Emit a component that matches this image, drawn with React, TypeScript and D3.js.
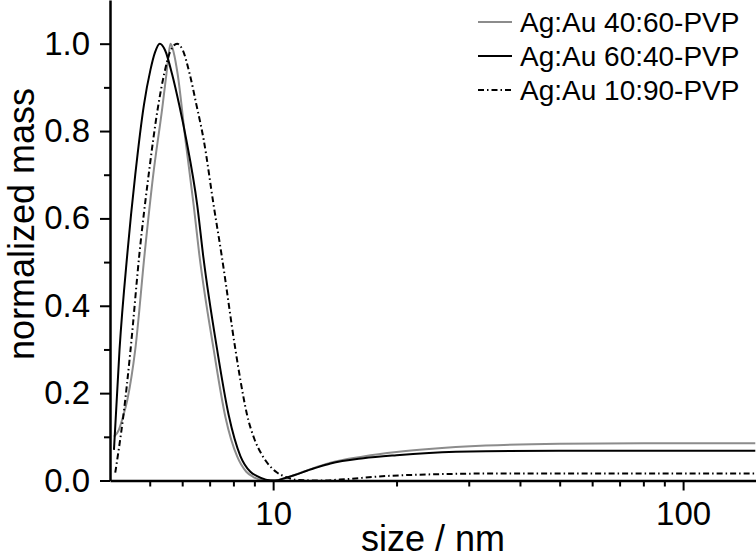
import React, { useEffect, useRef } from 'react';
import * as d3 from 'd3';

// values (size in nm, normalized mass)
const sizes4060 = [4.09, 4.2, 4.3, 4.41, 4.61, 4.86, 5.1, 5.37, 5.49, 5.56, 5.62, 5.72, 5.85, 6.11, 6.4, 6.6, 7.16, 7.65, 8.17, 8.6, 8.95, 9.5, 10.1, 10.8, 12.6, 13.8, 16.6, 20, 24, 33, 50, 80, 150];
const mass4060 = [0.1, 0.115, 0.145, 0.185, 0.3, 0.52, 0.7, 0.856, 0.93, 0.975, 1.0, 0.98, 0.93, 0.78, 0.63, 0.52, 0.3, 0.145, 0.055, 0.02, 0.008, 0.001, 0.0, 0.007, 0.029, 0.041, 0.055, 0.065, 0.072, 0.08, 0.084, 0.085, 0.085];

const sizes6040 = [4.09, 4.22, 4.41, 4.61, 4.84, 5.02, 5.15, 5.29, 5.45, 5.67, 5.9, 6.14, 6.53, 6.76, 7.3, 7.79, 8.32, 8.8, 9.14, 9.6, 10.1, 10.8, 12.6, 13.8, 16.6, 20, 24, 33, 50, 80, 150];
const mass6040 = [0.07, 0.3, 0.52, 0.7, 0.86, 0.94, 0.98, 1.0, 0.985, 0.93, 0.86, 0.78, 0.63, 0.51, 0.3, 0.15, 0.056, 0.02, 0.01, 0.002, 0.0, 0.007, 0.028, 0.039, 0.051, 0.058, 0.063, 0.067, 0.068, 0.068, 0.068];

const sizes1090 = [4.12, 4.2, 4.31, 4.49, 4.72, 4.97, 5.24, 5.42, 5.6, 5.83, 6.02, 6.26, 6.5, 6.77, 7.16, 7.49, 8.09, 8.32, 8.64, 9.0, 9.4, 9.8, 10.2, 10.8, 11.5, 13, 15, 18, 24, 35, 80, 150];
const mass1090 = [0.018, 0.07, 0.147, 0.3, 0.52, 0.7, 0.856, 0.93, 0.98, 1.0, 0.985, 0.93, 0.86, 0.78, 0.63, 0.515, 0.3, 0.23, 0.15, 0.095, 0.058, 0.034, 0.019, 0.007, 0.001, 0.0, 0.003, 0.009, 0.014, 0.016, 0.016, 0.016];

const seriesNames = ['Ag:Au 40:60-PVP', 'Ag:Au 60:40-PVP', 'Ag:Au 10:90-PVP'];
const xMajorTicks = [10, 100];
const xMinorTicks = [5, 6, 7, 8, 9, 20, 30, 40, 50, 60, 70, 80, 90];
const yMajorTicks = [0, 0.2, 0.4, 0.6, 0.8, 1.0];
const yMinorTicks = [0.1, 0.3, 0.5, 0.7, 0.9];

const font = '"Liberation Sans", Arial, sans-serif';

const App = () => {
	const chartRef = useRef<SVGSVGElement>(null);

	useEffect(() => {
		const svg = d3.select(chartRef.current);
		svg.selectAll('*').remove();

		const x = d3.scaleLog().domain([4, 150.6]).range([110, 756]);
		const y = d3.scaleLinear().domain([0, 1.1]).range([480.5, 0]);

		const series = [
			{ name: seriesNames[0], xs: sizes4060, ys: mass4060, color: '#8c8c8c', dash: null },
			{ name: seriesNames[1], xs: sizes6040, ys: mass6040, color: '#000', dash: null },
			{ name: seriesNames[2], xs: sizes1090, ys: mass1090, color: '#000', dash: '6,3,1.5,3' },
		];

		const line = d3.line<[number, number]>()
			.x(d => x(d[0]))
			.y(d => y(d[1]))
			.curve(d3.curveMonotoneX);

		series.forEach(s => {
			svg.append('path')
				.datum(s.xs.map((v, i) => [v, s.ys[i]] as [number, number]))
				.attr('fill', 'none')
				.attr('stroke', s.color)
				.attr('stroke-width', 2)
				.attr('stroke-dasharray', s.dash)
				.attr('d', line);
		});

		// x axis
		const xAxis = svg.append('g')
			.attr('transform', `translate(0,${y(0)})`)
			.call(d3.axisBottom(x).tickValues(xMajorTicks).tickFormat(d3.format('d')).tickSize(10).tickPadding(11).tickSizeOuter(0));
		svg.append('g')
			.attr('transform', `translate(0,${y(0)})`)
			.call(d3.axisBottom(x).tickValues(xMinorTicks).tickFormat(() => '').tickSize(6).tickSizeOuter(0))
			.select('.domain').remove();

		// y axis
		const yAxis = svg.append('g')
			.attr('transform', `translate(${x(4)},0)`)
			.call(d3.axisLeft(y).tickValues(yMajorTicks).tickFormat(d3.format('.1f')).tickSize(10).tickPadding(10).tickSizeOuter(0));
		svg.append('g')
			.attr('transform', `translate(${x(4)},0)`)
			.call(d3.axisLeft(y).tickValues(yMinorTicks).tickFormat(() => '').tickSize(6).tickSizeOuter(0))
			.select('.domain').remove();

		[xAxis, yAxis].forEach(g => {
			g.select('.domain').attr('stroke-width', 2.5);
			g.selectAll('text').style('font-family', font).style('font-size', '33px').attr('fill', '#000');
		});
		svg.selectAll('.tick line').attr('stroke-width', 2);

		svg.append('text')
			.attr('x', 433)
			.attr('y', 551)
			.attr('text-anchor', 'middle')
			.style('font-family', font)
			.style('font-size', '36px')
			.text('size / nm');

		svg.append('text')
			.attr('transform', 'translate(34,224) rotate(-90)')
			.attr('text-anchor', 'middle')
			.style('font-family', font)
			.style('font-size', '36px')
			.text('normalized mass');

		// legend
		series.forEach((s, i) => {
			const ly = 22 + i * 34;
			svg.append('line')
				.attr('x1', 478).attr('x2', 512)
				.attr('y1', ly).attr('y2', ly)
				.attr('stroke', s.color)
				.attr('stroke-width', 2)
				.attr('stroke-dasharray', s.dash);
			svg.append('text')
				.attr('x', 520)
				.attr('y', ly)
				.attr('dy', '0.35em')
				.style('font-family', font)
				.style('font-size', '28px')
				.text(s.name);
		});
	}, []);

	return (
		<div style={{ position: 'absolute', left: 0, top: 0 }}>
			<svg ref={chartRef} width={756} height={560} style={{ display: 'block', background: '#fff' }} />
		</div>
	);
};

export default App;
